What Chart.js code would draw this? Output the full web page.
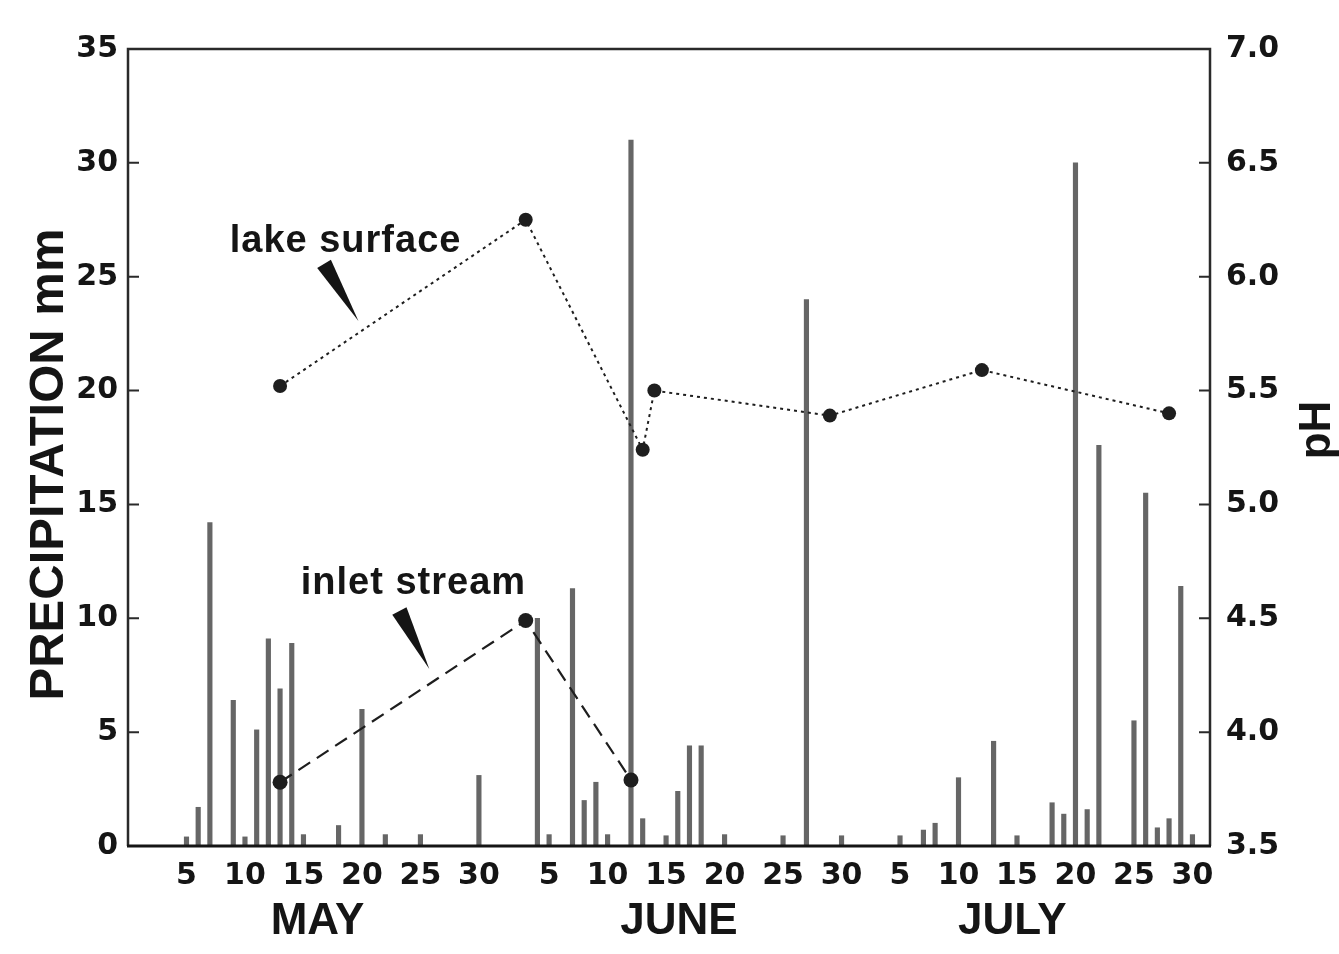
<!DOCTYPE html>
<html>
<head>
<meta charset="utf-8">
<title>Precipitation and pH</title>
<script src="https://cdn.jsdelivr.net/npm/chart.js@4.4.1/dist/chart.umd.min.js"></script>
<style>
  html, body { margin: 0; padding: 0; background: #fff; }
  #wrap { width: 1339px; height: 954px; position: relative; }
</style>
</head>
<body>
<div id="wrap"><canvas id="grafico"></canvas></div>
<script>
// days are counted from 30 April: May 1 = 1, June 1 = 32, July 1 = 62
const rainDays = [5, 6, 7, 9, 10, 11, 12, 13, 14, 15, 18, 20, 22, 25, 30,
  35, 36, 38, 39, 40, 41, 43, 44, 46, 47, 48, 49, 51, 56, 58, 61,
  66, 68, 69, 71, 74, 76, 79, 80, 81, 82, 83, 86, 87, 88, 89, 90, 91];
const rainMm = [0.4, 1.7, 14.2, 6.4, 0.4, 5.1, 9.1, 6.9, 8.9, 0.5, 0.9, 6.0, 0.5, 0.5, 3.1,
  10.0, 0.5, 11.3, 2.0, 2.8, 0.5, 31.0, 1.2, 0.45, 2.4, 4.4, 4.4, 0.5, 0.45, 24.0, 0.45,
  0.45, 0.7, 1.0, 3.0, 4.6, 0.45, 1.9, 1.4, 30.0, 1.6, 17.6, 5.5, 15.5, 0.8, 1.2, 11.4, 0.5];

const lakeDays = [13, 34, 44, 45, 60, 73, 89];
const lakePh = [5.52, 6.25, 5.24, 5.50, 5.39, 5.59, 5.40];

const inletDays = [13, 34, 43];
const inletPh = [3.78, 4.49, 3.79];

const tickDays = [5, 10, 15, 20, 25, 30, 36, 41, 46, 51, 56, 61, 66, 71, 76, 81, 86, 91];
const months = ["MAY", "JUNE", "JULY"];
const monthMid = [16.2, 47.1, 75.6];

// callouts, in day / mm units
const notes = [
  { text: "lake surface", x: 18.6, y: 26.1, from: [16.76, 25.56], to: [19.7, 23.05] },
  { text: "inlet stream", x: 24.4, y: 11.07, from: [23.2, 10.32], to: [25.76, 7.77] },
];

function dayOfMonth(d) {
  if (d > 61) return d - 61;
  if (d > 31) return d - 31;
  return d;
}

const ink = "#151515";
const tickFont = { family: "DejaVu Sans", size: 30, weight: "bold" };

function wedge(ctx, x0, y0, x1, y1, hw) {
  const dx = x1 - x0, dy = y1 - y0, len = Math.hypot(dx, dy);
  const nx = (-dy / len) * hw, ny = (dx / len) * hw;
  ctx.beginPath();
  ctx.moveTo(x0 + nx, y0 + ny);
  ctx.lineTo(x1, y1);
  ctx.lineTo(x0 - nx, y0 - ny);
  ctx.closePath();
  ctx.fill();
}

const frame = {
  id: "frame",
  beforeDatasetsDraw(chart) {
    const { ctx, chartArea: a, scales } = chart;
    ctx.save();
    ctx.strokeStyle = "#2a2a2a";
    ctx.lineWidth = 2.5;
    ctx.beginPath();
    ctx.moveTo(a.left, a.bottom);
    ctx.lineTo(a.left, a.top);
    ctx.lineTo(a.right, a.top);
    ctx.lineTo(a.right, a.bottom);
    ctx.stroke();

    // short ticks pointing into the plot
    ctx.lineWidth = 2;
    ctx.beginPath();
    scales.mm.ticks.forEach((t) => {
      if (t.value <= 0 || t.value >= 35) return;
      const y = scales.mm.getPixelForValue(t.value);
      ctx.moveTo(a.left, y);
      ctx.lineTo(a.left + 11, y);
    });
    scales.ph.ticks.forEach((t) => {
      if (t.value <= 3.5 || t.value >= 7) return;
      const y = scales.ph.getPixelForValue(t.value);
      ctx.moveTo(a.right, y);
      ctx.lineTo(a.right - 11, y);
    });
    ctx.stroke();
    ctx.restore();
  },
  afterDatasetsDraw(chart) {
    const { ctx, chartArea: a, scales } = chart;
    ctx.save();
    ctx.strokeStyle = ink;
    ctx.lineWidth = 3;
    ctx.beginPath();
    ctx.moveTo(a.left - 1, a.bottom);
    ctx.lineTo(a.right + 1, a.bottom);
    ctx.stroke();

    ctx.fillStyle = ink;
    ctx.font = "bold 38px 'Liberation Sans'";
    ctx.letterSpacing = "1px";
    ctx.textAlign = "center";
    ctx.textBaseline = "alphabetic";
    notes.forEach((n) => {
      ctx.fillText(n.text, scales.x.getPixelForValue(n.x), scales.mm.getPixelForValue(n.y));
      wedge(ctx,
        scales.x.getPixelForValue(n.from[0]), scales.mm.getPixelForValue(n.from[1]),
        scales.x.getPixelForValue(n.to[0]), scales.mm.getPixelForValue(n.to[1]), 8);
    });
    ctx.restore();
  },
  afterDraw(chart) {
    const { ctx, chartArea: a, scales } = chart;
    ctx.save();
    ctx.fillStyle = ink;
    ctx.textAlign = "center";
    ctx.textBaseline = "middle";

    ctx.font = "bold 44px 'Liberation Sans'";
    months.forEach((m, i) => {
      ctx.fillText(m, scales.x.getPixelForValue(monthMid[i]), a.bottom + 76);
    });

    ctx.save();
    ctx.translate(a.left - 79, (a.top + a.bottom) / 2 + 17);
    ctx.rotate(-Math.PI / 2);
    ctx.font = "bold 49px 'Liberation Sans'";
    ctx.fillText("PRECIPITATION mm", 0, 0);
    ctx.restore();

    ctx.save();
    ctx.translate(a.right + 108, a.top + 381);
    ctx.rotate(-Math.PI / 2);
    ctx.font = "bold 44px 'Liberation Sans'";
    ctx.fillText("pH", 0, 0);
    ctx.restore();

    ctx.restore();
  },
};

const rainPoints = rainDays.map((d, i) => ({ x: d, y: rainMm[i] }));
const lakePoints = lakeDays.map((d, i) => ({ x: d, y: lakePh[i] }));
const inletPoints = inletDays.map((d, i) => ({ x: d, y: inletPh[i] }));

const ctx = document.getElementById("grafico").getContext("2d");
new Chart(ctx, {
  type: "bar",
  data: {
    datasets: [
      {
        type: "line",
        label: "lake surface",
        data: lakePoints,
        yAxisID: "ph",
        borderColor: "#1e1e1e",
        borderWidth: 2,
        borderDash: [3, 4],
        pointRadius: 7,
        pointBorderWidth: 0,
        pointBackgroundColor: "#1e1e1e",
        order: 0,
      },
      {
        type: "line",
        label: "inlet stream",
        data: inletPoints,
        yAxisID: "ph",
        borderColor: "#1e1e1e",
        borderWidth: 2.2,
        borderDash: [14, 8],
        pointRadius: 7.5,
        pointBorderWidth: 0,
        pointBackgroundColor: "#1e1e1e",
        order: 0,
      },
      {
        type: "bar",
        label: "precipitation",
        data: rainPoints,
        yAxisID: "mm",
        backgroundColor: "#666666",
        barThickness: 4.5,
        order: 1,
      },
    ],
  },
  options: {
    responsive: true,
    maintainAspectRatio: false,
    animation: false,
    layout: { padding: { top: 49 } },
    plugins: { legend: { display: false }, tooltip: { enabled: false } },
    scales: {
      x: {
        type: "linear",
        offset: false,
        min: 0,
        max: 92.5,
        grid: { display: false, drawTicks: false, offset: false },
        border: { display: false },
        afterBuildTicks: (scale) => {
          scale.ticks = tickDays.map((v) => ({ value: v }));
        },
        afterFit: (scale) => { scale.height = 108; },
        ticks: {
          autoSkip: false,
          maxRotation: 0,
          padding: 12,
          color: ink,
          font: tickFont,
          callback: (v) => dayOfMonth(v),
        },
      },
      mm: {
        type: "linear",
        position: "left",
        min: 0,
        max: 35,
        grid: { display: false, drawTicks: false },
        border: { display: false },
        afterFit: (scale) => { scale.width = 128; },
        ticks: { stepSize: 5, padding: 10, color: ink, font: tickFont },
      },
      ph: {
        type: "linear",
        position: "right",
        min: 3.5,
        max: 7,
        grid: { display: false, drawTicks: false },
        border: { display: false },
        afterFit: (scale) => { scale.width = 129; },
        ticks: {
          stepSize: 0.5,
          padding: 16,
          color: ink,
          font: tickFont,
          callback: (v) => v.toFixed(1),
        },
      },
    },
  },
  plugins: [frame],
});
</script>
</body>
</html>
